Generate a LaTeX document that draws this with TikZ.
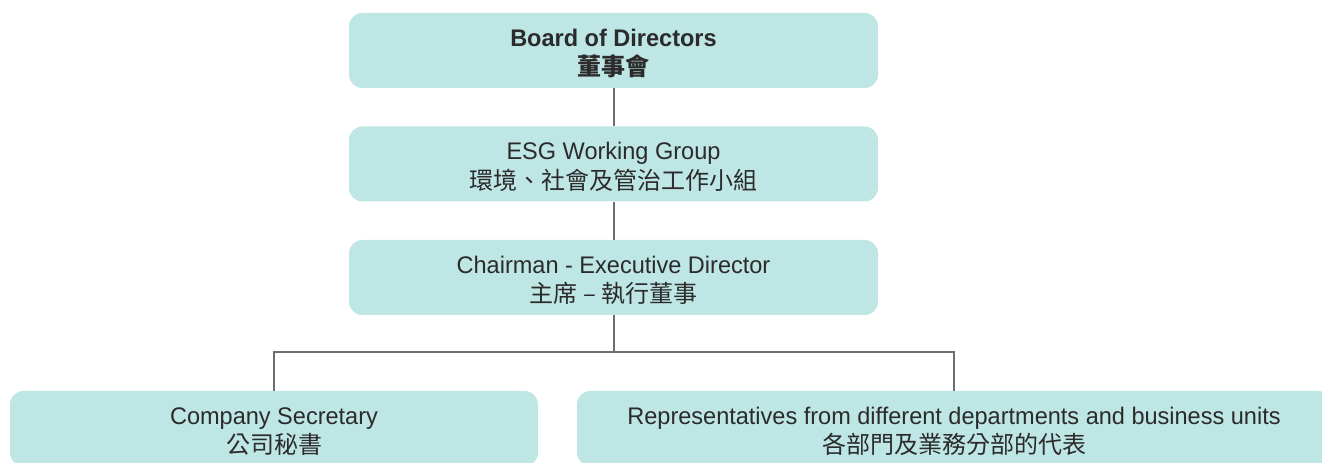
\documentclass[tikz,border=0pt]{standalone}
\usepackage{fontspec}
\setmainfont[FakeStretch=0.98]{Liberation Sans}
\newfontfamily\cjk{Noto Sans CJK TC}
\definecolor{boxfill}{HTML}{BEE6E4}
\definecolor{linegray}{HTML}{6D6E71}
\definecolor{ink}{HTML}{2B2B2B}
% two centred lines, lowered a little inside the box (box size kept)
\newcommand{\boxlines}[2]{\raisebox{-3.4pt}[\height][\depth]{\begin{tabular}{@{}c@{}}#1\\#2\end{tabular}}}
\begin{document}
\begin{tikzpicture}[x=0.75pt,y=-0.75pt,
  orgbox/.style={rectangle, rounded corners=10pt, fill=boxfill, text=ink,
    inner sep=0pt, minimum height=56.25pt,
    font=\fontsize{18}{22}\selectfont},
  link/.style={draw=linegray, line width=1.5pt}]
\useasboundingbox (0,0) rectangle (1322,463);
\clip (0,0) rectangle (1322,463);

\coordinate (junction) at (613.5,352);

\node[orgbox, minimum width=396.75pt] (board) at (613.5,50.5)
  {\boxlines{\textbf{Board of Directors}}{\cjk\bfseries 董事會}};
\node[orgbox, minimum width=396.75pt] (esg) at (613.5,164)
  {\boxlines{ESG Working Group}{\cjk 環境、社會及管治工作小組}};
\node[orgbox, minimum width=396.75pt] (chair) at (613.5,277.5)
  {\boxlines{Chairman - Executive Director}{\cjk 主席 – 執行董事}};
\node[orgbox, minimum width=396pt] (sec) at (274,428.5)
  {\boxlines{Company Secretary}{\cjk 公司秘書}};
\node[orgbox, minimum width=565.5pt] (reps) at (954,428.5)
  {\boxlines{Representatives from different departments and business units}{\cjk 各部門及業務分部的代表}};

\draw[link] (board.south) -- (esg.north);
\draw[link] (esg.south) -- (chair.north);
\draw[link] (chair.south) -- (junction);
\draw[link] (sec.north) |- (junction) -| (reps.north);
\end{tikzpicture}
\end{document}
